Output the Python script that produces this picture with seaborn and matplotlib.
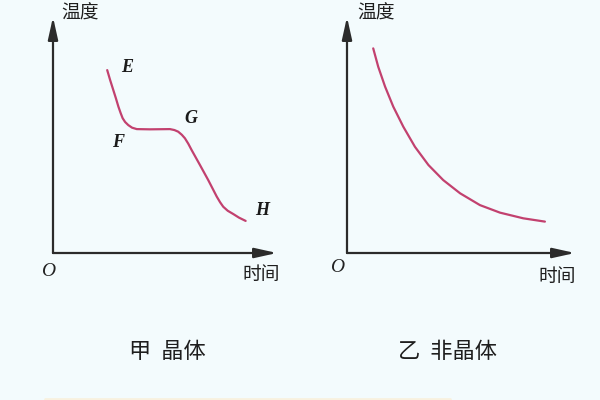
import matplotlib
matplotlib.use("Agg")
import matplotlib.pyplot as plt
import seaborn as sns
import pandas as pd
from matplotlib.lines import Line2D

# ---- data (arbitrary units of time / temperature) ----
crystal_time = [2.42, 2.55, 2.69, 2.81, 2.92, 3.02, 3.11, 3.22, 3.36, 3.53, 3.74,
                4.33, 5.22, 5.42, 5.59, 5.75, 5.89, 6.04, 6.19, 6.56, 6.93,
                7.31, 7.46, 7.60, 7.80, 8.05, 8.30, 8.60]
crystal_temp = [7.75, 7.33, 6.91, 6.55, 6.20, 5.93, 5.71, 5.55, 5.42, 5.31, 5.25,
                5.24, 5.25, 5.21, 5.14, 5.01, 4.86, 4.63, 4.36, 3.73, 3.09,
                2.39, 2.15, 1.96, 1.79, 1.65, 1.50, 1.36]

amorph_time = [1.15, 1.37, 1.67, 2.03, 2.47, 2.98, 3.57, 4.22, 4.96, 5.83,
               6.71, 7.73, 8.68]
amorph_temp = [8.67, 7.89, 7.05, 6.20, 5.35, 4.50, 3.73, 3.09, 2.53, 2.03,
               1.71, 1.47, 1.33]

point_labels = ["E", "F", "G", "H"]
point_label_pos = [(3.30, 7.84), (2.90, 4.70), (6.16, 5.72), (9.33, 1.78)]

y_label = "温度"
x_label = "时间"
origin_label = "O"
captions = ["甲  晶体", "乙  非晶体"]

# ---- style ----
sns.set_theme(style="white")
plt.rcParams['font.family'] = ['Noto Sans CJK SC', 'DejaVu Sans']

BG = "#f3fbfd"
CURVE = "#c2416f"
AXC = "#2b2b2b"

fig = plt.figure(figsize=(6, 4), dpi=100, facecolor=BG)

W, H = 600.0, 400.0


def make_axes(x0, x1, y_bottom, y_top):
    return fig.add_axes([x0 / W, 1 - y_bottom / H, (x1 - x0) / W, (y_bottom - y_top) / H])


ax1 = make_axes(53, 277, 253, 17)
ax2 = make_axes(347, 575, 253, 17)

df1 = pd.DataFrame({"time": crystal_time, "temp": crystal_temp})
df2 = pd.DataFrame({"time": amorph_time, "temp": amorph_temp})

for ax, df in ((ax1, df1), (ax2, df2)):
    ax.set_facecolor("none")
    sns.lineplot(data=df, x="time", y="temp", ax=ax, color=CURVE, linewidth=1.6,
                 sort=False, estimator=None)
    ax.lines[-1].set_solid_joinstyle("round")
    ax.set_xlim(0, 10)
    ax.set_ylim(0, 10)
    ax.set_xticks([])
    ax.set_yticks([])
    ax.set_xlabel("")
    ax.set_ylabel("")
    for s in ax.spines.values():
        s.set_visible(False)
    arrow = dict(arrowstyle="-|>,head_length=0.9,head_width=0.2", color=AXC,
                 lw=1.6, mutation_scale=15, shrinkA=0, shrinkB=0)
    ax.annotate("", xy=(1, 0), xytext=(0, 0), xycoords="axes fraction",
                arrowprops=arrow, annotation_clip=False)
    ax.annotate("", xy=(0, 1), xytext=(0, 0), xycoords="axes fraction",
                arrowprops=arrow, annotation_clip=False)

cjk = dict(color="#1e1e1e", weight="medium")

# axis words
ax1.text(0.036, 1.017, y_label, transform=ax1.transAxes, ha="left", va="center",
         fontsize=13.5, clip_on=False, **cjk)
ax2.text(0.044, 1.017, y_label, transform=ax2.transAxes, ha="left", va="center",
         fontsize=13.5, clip_on=False, **cjk)
ax1.text(0.93, -0.093, x_label, transform=ax1.transAxes, ha="center", va="center",
         fontsize=13.5, clip_on=False, **cjk)
ax2.text(0.92, -0.10, x_label, transform=ax2.transAxes, ha="center", va="center",
         fontsize=13.5, clip_on=False, **cjk)

# origin labels
serif_it = dict(family=["Liberation Serif", "DejaVu Serif"], style="italic")
ax1.text(-0.022, -0.08, origin_label, transform=ax1.transAxes, ha="center", va="center",
         fontsize=14, color="#222222", clip_on=False, **serif_it)
ax2.text(-0.044, -0.06, origin_label, transform=ax2.transAxes, ha="center", va="center",
         fontsize=14, color="#222222", clip_on=False, **serif_it)

# point labels
for lab, (tx, ty) in zip(point_labels, point_label_pos):
    ax1.text(tx, ty, lab, ha="center", va="center", fontsize=13, color="#1a1a1a",
             weight="bold", clip_on=False, **serif_it)

# captions
fig.text(167 / W, 1 - 352 / H, captions[0], ha="center", va="center",
         fontsize=16, **cjk)
fig.text(447 / W, 1 - 352 / H, captions[1], ha="center", va="center",
         fontsize=16, **cjk)

# faint strip at the bottom edge
fig.add_artist(Line2D([45 / W, 450 / W], [1 - 398.5 / H, 1 - 398.5 / H],
                      transform=fig.transFigure, color="#f8f1df", lw=2))

fig.savefig("out.png", dpi=100, facecolor=BG)
